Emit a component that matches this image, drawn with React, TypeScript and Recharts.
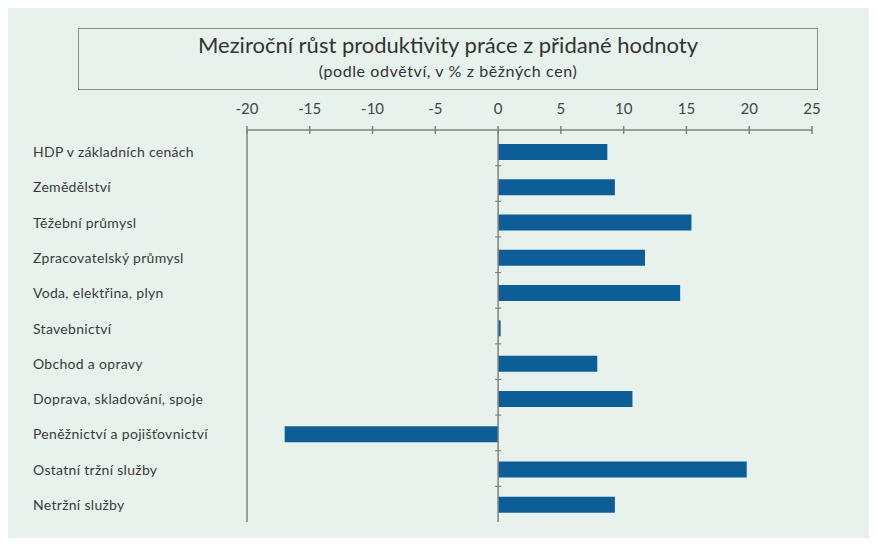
import { BarChart, Bar, XAxis, YAxis, ReferenceLine } from "recharts";

const categories = [
  "HDP v základních cenách",
  "Zemědělství",
  "Těžební průmysl",
  "Zpracovatelský průmysl",
  "Voda, elektřina, plyn",
  "Stavebnictví",
  "Obchod a opravy",
  "Doprava, skladování, spoje",
  "Peněžnictví a pojišťovnictví",
  "Ostatní tržní služby",
  "Netržní služby",
];

const growth = [8.7, 9.3, 15.4, 11.7, 14.5, 0.2, 7.9, 10.7, -17.0, 19.8, 9.3];

const xTicks = [-20, -15, -10, -5, 0, 5, 10, 15, 20, 25];

const title = "Meziroční růst produktivity práce z přidané hodnoty";
const subtitle = "(podle odvětví, v % z běžných cen)";

const data = categories.map((name, i) => ({ name, value: growth[i] }));

const FONT = "Lato, 'Open Sans', sans-serif";
const AXIS = "#7d827f";
const BAR = "#0d5e96";

// tick mark crossing the axis line, label above
// eslint-disable-next-line @typescript-eslint/no-explicit-any
function TopTick({ x, y, payload }: any) {
  return (
    <g>
      <line x1={x} x2={x} y1={y - 4} y2={y + 4} stroke={AXIS} strokeWidth={1.5} />
      <text
        x={x}
        y={y - 22}
        textAnchor="middle"
        dominantBaseline="central"
        fill="#444"
        fontSize={15}
        fontFamily={FONT}
      >
        {payload.value}
      </text>
    </g>
  );
}

// eslint-disable-next-line @typescript-eslint/no-explicit-any
function CatTick({ y, payload }: any) {
  return (
    <text
      x={25}
      y={y}
      textAnchor="start"
      dominantBaseline="central"
      fill="#3a3a3a"
      fontSize={14}
      letterSpacing={0.3}
      fontFamily={FONT}
    >
      {payload.value}
    </text>
  );
}

// zero line with small marks between categories
// eslint-disable-next-line @typescript-eslint/no-explicit-any
function ZeroLine(props: any) {
  const { x1, y1, y2 } = props;
  const step = (y2 - y1) / categories.length;
  const marks = [];
  for (let i = 1; i < categories.length; i++) {
    const yy = y1 + step * i;
    marks.push(<line key={i} x1={x1 - 3} x2={x1 + 3} y1={yy} y2={yy} stroke={AXIS} strokeWidth={1.2} />);
  }
  return (
    <g>
      <line x1={x1} x2={x1} y1={y1} y2={y2} stroke={AXIS} strokeWidth={1.5} />
      {marks}
    </g>
  );
}

export default function App() {
  return (
    <div
      style={{
        position: "relative",
        width: 862,
        height: 530,
        background: "#e8f2ed",
        fontFamily: FONT,
      }}
    >
      <div
        style={{
          position: "absolute",
          left: 70,
          top: 20,
          width: 738,
          height: 60,
          border: "1.5px solid #8a8f8c",
          textAlign: "center",
          color: "#333",
        }}
      >
        <div style={{ fontSize: 22, lineHeight: "26px", marginTop: 3 }}>{title}</div>
        <div style={{ fontSize: 16, lineHeight: "18px", marginTop: 4, letterSpacing: 0.6 }}>{subtitle}</div>
      </div>
      <BarChart
        width={862}
        height={530}
        data={data}
        layout="vertical"
        margin={{ top: 92, right: 58, bottom: 16, left: 0 }}
        barSize={16}
      >
        <XAxis
          type="number"
          orientation="top"
          domain={[-20, 25]}
          ticks={xTicks}
          allowDataOverflow
          height={30}
          axisLine={{ stroke: AXIS, strokeWidth: 1.5 }}
          tickLine={false}
          tickSize={0}
          tickMargin={0}
          tick={<TopTick />}
          interval={0}
        />
        <YAxis
          type="category"
          dataKey="name"
          width={239}
          axisLine={{ stroke: AXIS, strokeWidth: 1.5 }}
          tickLine={false}
          tick={<CatTick />}
          interval={0}
          padding={{ top: 4, bottom: 0 }}
        />
        <ReferenceLine x={0} shape={<ZeroLine />} />
        <Bar dataKey="value" fill={BAR} isAnimationActive={false} />
      </BarChart>
    </div>
  );
}
